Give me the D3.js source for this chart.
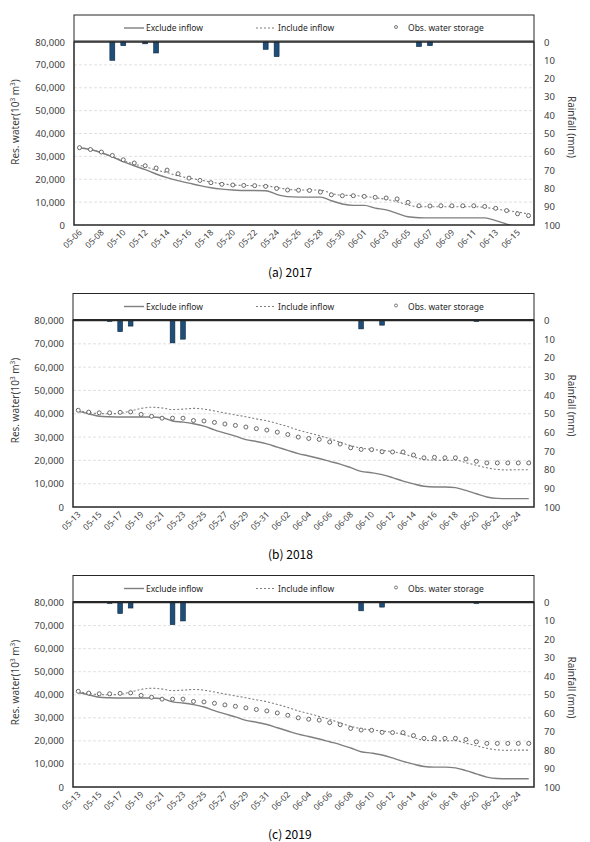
<!DOCTYPE html>
<html>
<head>
<meta charset="utf-8">
<script src="https://cdn.jsdelivr.net/npm/d3@7"></script>
<style>
  html, body { margin: 0; padding: 0; background: #fff; }
  svg { display: block; }
  .tick-label { font-family: 'Noto Sans', sans-serif; font-size: 9.5px; fill: #404040; }
  .legend-text { font-family: 'Noto Sans', sans-serif; font-size: 8.5px; fill: #262626; }
  .caption { font-family: 'Noto Sans CJK KR', sans-serif; font-size: 12px; fill: #000; }
</style>
</head>
<body>
<script>
// --- data ---
const dates2017 = ['05-06','05-07','05-08','05-09','05-10','05-11','05-12','05-13','05-14','05-15',
  '05-16','05-17','05-18','05-19','05-20','05-21','05-22','05-23','05-24','05-25','05-26','05-27',
  '05-28','05-29','05-30','05-31','06-01','06-02','06-03','06-04','06-05','06-06','06-07','06-08',
  '06-09','06-10','06-11','06-12','06-13','06-14','06-15','06-16'];
const exclude2017 = [33800,33000,31600,29800,27700,25900,24200,22300,20700,19400,
  18300,17200,16300,15700,15300,15100,15100,15000,13400,12400,12200,12200,
  12200,10600,9200,8600,8600,7400,6600,5100,3600,3200,3100,3100,
  3100,3100,3100,3100,1900,400,-1000,-2000];
const include2017 = [33800,33100,31600,29800,28100,26600,25500,24000,22900,21500,
  20500,19700,18800,18000,17500,17300,17200,17100,16400,15600,15300,15300,
  15300,13800,13000,12900,12500,11900,11200,10200,8700,8000,8000,8000,
  8000,8000,8000,7700,7000,6300,5700,4800];
const obs2017 = [33800,33000,31900,30400,28500,27100,25900,24900,24000,22400,
  20500,19500,18500,17800,17500,17300,17200,16900,16000,15300,15200,15100,
  14400,13200,12800,12800,12500,12100,11800,11400,9900,8400,8300,8400,
  8400,8400,8400,8100,7300,6300,4900,4100];
const rain2017 = [0,0,0,10,2,0,1,6,0,0,
  0,0,0,0,0,0,0,4,8,0,0,0,
  0,0,0,0,0,0,0,0,0,2.5,2,0,
  0,0,0,0,0,0,0,0];

const dates2018 = ['05-13','05-14','05-15','05-16','05-17','05-18','05-19','05-20','05-21','05-22',
  '05-23','05-24','05-25','05-26','05-27','05-28','05-29','05-30','05-31','06-01','06-02','06-03',
  '06-04','06-05','06-06','06-07','06-08','06-09','06-10','06-11','06-12','06-13','06-14','06-15',
  '06-16','06-17','06-18','06-19','06-20','06-21','06-22','06-23','06-24','06-25'];
const exclude2018 = [41000,40000,38900,38700,38600,38600,38600,38600,38300,36900,
  36400,35700,34700,33100,31700,30400,28900,28100,27100,25700,24300,22900,
  21900,20800,19600,18400,16900,15300,14700,13900,12600,11100,9900,8900,
  8600,8600,8300,7100,5700,4300,3700,3600,3600,3600];
const include2018 = [41500,40500,40100,40000,40200,41200,42300,42800,42500,41800,
  42000,42300,42000,41200,40300,39500,38700,37800,37000,35800,34500,33000,
  31800,30600,29300,27800,26300,25300,24700,24300,23700,22800,21500,20300,
  20100,20000,20100,19000,17900,16800,16100,15900,16000,16000];
const obs2018 = [41500,40700,40400,40400,40600,40800,39700,38900,38100,38100,
  38100,37100,36900,36300,35600,35000,34300,33600,33000,32100,31100,30000,
  29400,29000,27900,27000,25400,24700,24600,23700,23600,23600,22300,21100,
  21300,21100,21100,20600,19600,18900,18900,18900,18900,18900];
const rain2018 = [0,0,0,0.5,6,3,0,0,0,12,
  10,0,0,0,0,0,0,0,0,0,0,0,
  0,0,0,0,0,4.5,0,2.5,0,0,0,0,
  0,0,0,0,0.5,0,0,0,0,0];

// the 2019 panel of the figure shows the same series as 2018
const dates2019 = dates2018;
const exclude2019 = exclude2018;
const include2019 = include2018;
const obs2019 = obs2018;
const rain2019 = rain2018;

const waterTicks = [0, 10000, 20000, 30000, 40000, 50000, 60000, 70000, 80000];
const rainTicks = [0, 10, 20, 30, 40, 50, 60, 70, 80, 90, 100];

const panels = [
  { caption: '(a)  2017', dates: dates2017, exclude: exclude2017, include: include2017, obs: obs2017, rain: rain2017,
    top: 42, bottom: 225, left: 74 },
  { caption: '(b)  2018', dates: dates2018, exclude: exclude2018, include: include2018, obs: obs2018, rain: rain2018,
    top: 320.5, bottom: 507, left: 73 },
  { caption: '(c)  2019', dates: dates2019, exclude: exclude2019, include: include2019, obs: obs2019, rain: rain2019,
    top: 602.5, bottom: 787, left: 73 }
];

const W = 590, H = 842, RIGHT = 534;
const lineColor = '#7f7f7f';

const svg = d3.select('body').append('svg')
  .attr('width', W)
  .attr('height', H);

function drawPanel(p, i) {
  const g = svg.append('g');
  const height = p.bottom - p.top;

  const x = d3.scaleBand()
    .domain(p.dates)
    .range([p.left, RIGHT]);

  const y = d3.scaleLinear()
    .domain([0, 80000])
    .range([p.bottom, p.top]);

  const yRain = d3.scaleLinear()
    .domain([0, 100])
    .range([p.top, p.bottom]);

  const clipId = 'clip' + i;
  g.append('clipPath').attr('id', clipId)
    .append('rect')
      .attr('x', p.left).attr('y', p.top)
      .attr('width', RIGHT - p.left).attr('height', height);

  // grid lines
  g.selectAll('.grid')
    .data(waterTicks.filter(d => d > 0 && d < 80000))
    .enter()
    .append('line')
      .attr('x1', p.left).attr('x2', RIGHT)
      .attr('y1', d => y(d)).attr('y2', d => y(d))
      .attr('stroke', '#d9d9d9')
      .attr('stroke-width', 0.8)
      .attr('stroke-dasharray', '3,2');

  // rainfall bars hanging from the top
  const barW = x.bandwidth() * 0.45;
  g.selectAll('.bar')
    .data(p.dates.map((d, k) => ({ date: d, v: p.rain[k] })).filter(d => d.v > 0))
    .enter()
    .append('rect')
      .attr('x', d => x(d.date) + (x.bandwidth() - barW) / 2)
      .attr('y', yRain(0))
      .attr('width', barW)
      .attr('height', d => yRain(d.v) - yRain(0))
      .attr('fill', '#1f4e79')
      .attr('stroke', '#0b2540')
      .attr('stroke-width', 0.6);

  const cx = d => x(d) + x.bandwidth() / 2;
  const line = d3.line()
    .defined(d => d.v != null)
    .x(d => cx(d.date))
    .y(d => y(d.v))
    .curve(d3.curveMonotoneX);

  const series = key => p.dates.map((d, k) => ({ date: d, v: p[key][k] }));

  g.append('path')
    .datum(series('exclude'))
    .attr('clip-path', `url(#${clipId})`)
    .attr('d', line)
    .attr('fill', 'none')
    .attr('stroke', lineColor)
    .attr('stroke-width', 1.4);

  g.append('path')
    .datum(series('include'))
    .attr('clip-path', `url(#${clipId})`)
    .attr('d', line)
    .attr('fill', 'none')
    .attr('stroke', lineColor)
    .attr('stroke-width', 1.1)
    .attr('stroke-dasharray', '2,2');

  g.selectAll('.obs')
    .data(series('obs'))
    .enter()
    .append('circle')
      .attr('cx', d => cx(d.date))
      .attr('cy', d => y(d.v))
      .attr('r', 2)
      .attr('fill', '#fff')
      .attr('stroke', '#595959')
      .attr('stroke-width', 0.9);

  // plot frame
  g.append('rect')
    .attr('x', p.left).attr('y', p.top)
    .attr('width', RIGHT - p.left).attr('height', height)
    .attr('fill', 'none')
    .attr('stroke', '#262626')
    .attr('stroke-width', 1.5);

  // left axis labels
  g.selectAll('.ly')
    .data(waterTicks)
    .enter()
    .append('text')
      .attr('class', 'tick-label')
      .attr('x', p.left - 9)
      .attr('y', d => y(d) + 3.5)
      .attr('text-anchor', 'end')
      .text(d => d3.format(',')(d));

  // right axis labels
  g.selectAll('.ry')
    .data(rainTicks)
    .enter()
    .append('text')
      .attr('class', 'tick-label')
      .attr('x', RIGHT + 10)
      .attr('y', d => yRain(d) + 3.5)
      .text(d => d);

  // x labels, every second day
  g.selectAll('.xl')
    .data(p.dates.filter((d, k) => k % 2 === 0))
    .enter()
    .append('text')
      .attr('class', 'tick-label')
      .style('font-size', '8.5px')
      .attr('text-anchor', 'end')
      .attr('transform', d => `translate(${cx(d) + 3},${p.bottom + 8}) rotate(-45)`)
      .text(d => d);

  // axis titles
  const lt = g.append('text')
    .attr('class', 'tick-label')
    .style('font-size', '10px')
    .attr('text-anchor', 'middle')
    .attr('transform', `translate(19,${p.top + 80}) rotate(-90)`);
  lt.append('tspan').text('Res. water(10');
  lt.append('tspan').attr('dy', -4).style('font-size', '6.5px').text('3');
  lt.append('tspan').attr('dy', 4).text(' m');
  lt.append('tspan').attr('dy', -4).style('font-size', '6.5px').text('3');
  lt.append('tspan').attr('dy', 4).text(')');

  g.append('text')
    .attr('class', 'tick-label')
    .style('font-size', '10px')
    .attr('text-anchor', 'middle')
    .attr('transform', `translate(568,${p.top + 85}) rotate(90)`)
    .text('Rainfall (mm)');

  // legend box
  const ly = p.top - 14;
  g.append('rect')
    .attr('x', p.left).attr('y', p.top - 27)
    .attr('width', RIGHT - p.left).attr('height', 26)
    .attr('fill', '#fff')
    .attr('stroke', '#262626')
    .attr('stroke-width', 1);

  g.append('line')
    .attr('x1', 124).attr('x2', 144).attr('y1', ly).attr('y2', ly)
    .attr('stroke', lineColor).attr('stroke-width', 1.4);
  g.append('text').attr('class', 'legend-text')
    .attr('x', 146).attr('y', ly + 3).text('Exclude inflow');

  g.append('line')
    .attr('x1', 256).attr('x2', 275).attr('y1', ly).attr('y2', ly)
    .attr('stroke', lineColor).attr('stroke-width', 1.1)
    .attr('stroke-dasharray', '2,2');
  g.append('text').attr('class', 'legend-text')
    .attr('x', 278).attr('y', ly + 3).text('Include inflow');

  g.append('circle')
    .attr('cx', 396).attr('cy', ly - 1).attr('r', 1.5)
    .attr('fill', '#fff').attr('stroke', '#595959').attr('stroke-width', 0.8);
  g.append('text').attr('class', 'legend-text')
    .attr('x', 408).attr('y', ly + 3).text('Obs. water storage');

  // caption under the panel
  g.append('text')
    .attr('class', 'caption')
    .attr('x', 268)
    .attr('y', p.bottom + 52)
    .text(p.caption);
}

panels.forEach(drawPanel);
</script>
</body>
</html>
